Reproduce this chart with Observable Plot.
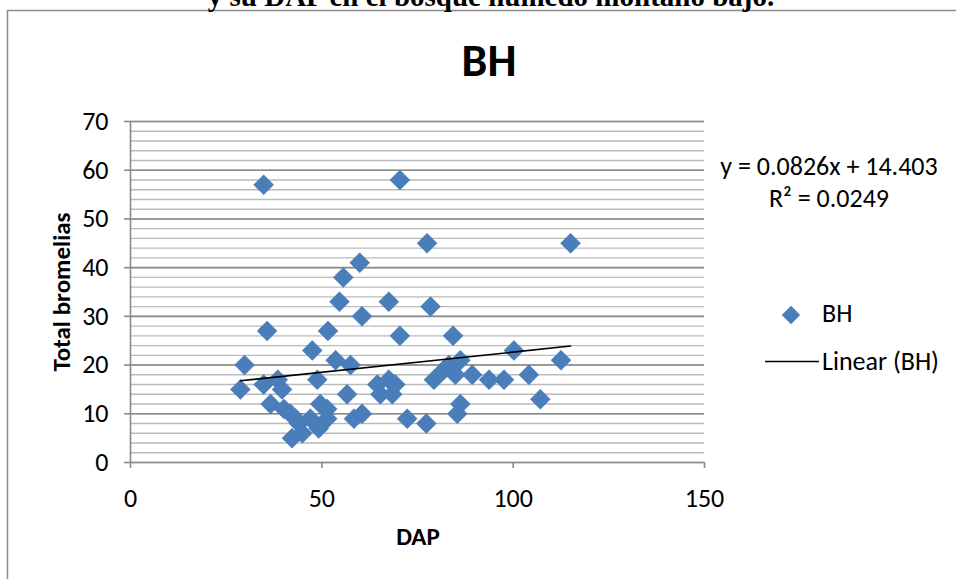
<!DOCTYPE html>
<html>
<head>
<meta charset="utf-8">
<script src="https://cdn.jsdelivr.net/npm/d3@7"></script>
<script src="https://cdn.jsdelivr.net/npm/@observablehq/plot@0.6"></script>
<style>
  html, body { margin: 0; padding: 0; background: #fff; }
  #chart svg { display: block; }
</style>
</head>
<body>
<div id="chart"></div>
<script>
// ---- data ----
const dap = [28.7, 29.8, 34.8, 34.8, 35.7, 36.6, 38.5, 39.6, 40.1, 41.8, 43.1, 44.0, 42.2, 44.9, 47.0,
  47.5, 48.8, 49.2, 49.6, 51.4, 51.4, 51.6, 53.6, 54.6, 55.6, 56.6, 57.5, 58.4, 59.9, 60.5,
  60.5, 64.5, 65.3, 67.5, 67.5, 68.4, 69.2, 70.4, 70.4, 72.3, 77.3, 77.5, 78.4, 79.3, 81.9,
  83.2, 84.3, 84.9, 86.2, 86.2, 85.4, 89.3, 93.7, 97.6, 100.2, 104.1, 107.1, 112.5, 115.0];
const bromelias = [15, 20, 57, 16, 27, 12, 17, 15, 11, 10, 9, 8, 5, 6, 9,
  23, 17, 7, 12, 11, 9, 27, 21, 33, 38, 14, 20, 9, 41, 30,
  10, 16, 14, 33, 17, 14, 16, 58, 26, 9, 8, 45, 32, 17, 19,
  20, 26, 18, 21, 12, 10, 18, 17, 17, 23, 18, 13, 21, 45];
const xTicks = [0, 50, 100, 150];
const yTicks = [0, 10, 20, 30, 40, 50, 60, 70];
const yMinor = d3.range(0, 71, 2);
const slope = 0.0826, intercept = 14.403;
const caption = "y su DAP en el bosque húmedo montano bajo.";
const title = "BH";
const xLabel = "DAP";
const yLabel = "Total bromelias";
const eqText = "y = 0.0826x + 14.403";
const r2Text = "R² = 0.0249";
const seriesName = "BH";
const trendName = "Linear (BH)";

const points = dap.map((d, i) => ({dap: d, bromelias: bromelias[i]}));
const xExt = d3.extent(dap);
const trend = xExt.map(x => ({dap: x, bromelias: slope * x + intercept}));

const FONT = "Carlito, Calibri, 'Open Sans', sans-serif";
const BLUE = "#4a7ebb";

const W = 956, H = 579;
const plot = Plot.plot({
  width: W, height: H,
  marginLeft: 130, marginRight: 252, marginTop: 121, marginBottom: 117,
  style: {fontFamily: FONT, fontSize: "26px", color: "#000", background: "#fff", overflow: "visible"},
  x: {domain: [0, 150]},
  y: {domain: [0, 70]},
  marks: [
    Plot.ruleY(yMinor, {stroke: "#bababa", strokeWidth: 1.4}),
    Plot.ruleY(yTicks, {stroke: "#8a8a8a", strokeWidth: 1.6}),
    Plot.ruleX([0], {stroke: "#8a8a8a", strokeWidth: 1.6}),
    Plot.axisY({ticks: yTicks, tickSize: 6, tickPadding: 16, stroke: "#8a8a8a", strokeWidth: 1.6, label: null, tickFormat: d => d}),
    Plot.axisX({ticks: xTicks, tickSize: 6, tickPadding: 20, stroke: "#8a8a8a", strokeWidth: 1.6, label: null, tickFormat: d => d}),
    Plot.dot(points, {x: "dap", y: "bromelias", symbol: "diamond2", r: 9, fill: BLUE, stroke: "#4578b4", strokeWidth: 0.5}),
    Plot.line(trend, {x: "dap", y: "bromelias", stroke: "#000", strokeWidth: 1.6})
  ]
});
document.getElementById("chart").appendChild(plot);

const svg = d3.select(plot);
const txt = (x, y, s, size, opts = {}) => svg.append("text")
  .attr("x", x).attr("y", y)
  .attr("text-anchor", opts.anchor || "middle")
  .attr("font-family", opts.family || FONT)
  .attr("font-size", size)
  .attr("font-weight", opts.weight || "normal")
  .attr("fill", "#000")
  .text(s);

// outer chart frame
svg.append("rect").attr("x", 7.5).attr("y", 10.5).attr("width", 1000).attr("height", 700)
  .attr("fill", "none").attr("stroke", "#8c8c8c").attr("stroke-width", 1.5);
// cut-off document caption at top
txt(491, 6, caption, 29, {family: "'Liberation Serif', 'Times New Roman', serif", weight: "bold"});
// title
txt(489, 76, title, 46, {weight: "bold"});
// axis titles
svg.append("text").attr("transform", "translate(70,292) rotate(-90)").attr("text-anchor", "middle")
  .attr("font-family", FONT).attr("font-size", 25).attr("font-weight", "bold").text(yLabel);
txt(418, 545, xLabel, 25, {weight: "bold"});
// trendline equation
txt(829, 175, eqText, 26);
txt(829, 207, r2Text, 26);
// legend
svg.append("path").attr("transform", "translate(791,315)")
  .attr("d", d3.symbol(d3.symbolDiamond2, Math.PI * 81 * 0.85)()).attr("fill", BLUE);
txt(822, 322, seriesName, 26, {anchor: "start"});
svg.append("line").attr("x1", 765).attr("x2", 819).attr("y1", 361.5).attr("y2", 361.5)
  .attr("stroke", "#000").attr("stroke-width", 1.6);
txt(822, 370, trendName, 26, {anchor: "start"});
</script>
</body>
</html>
